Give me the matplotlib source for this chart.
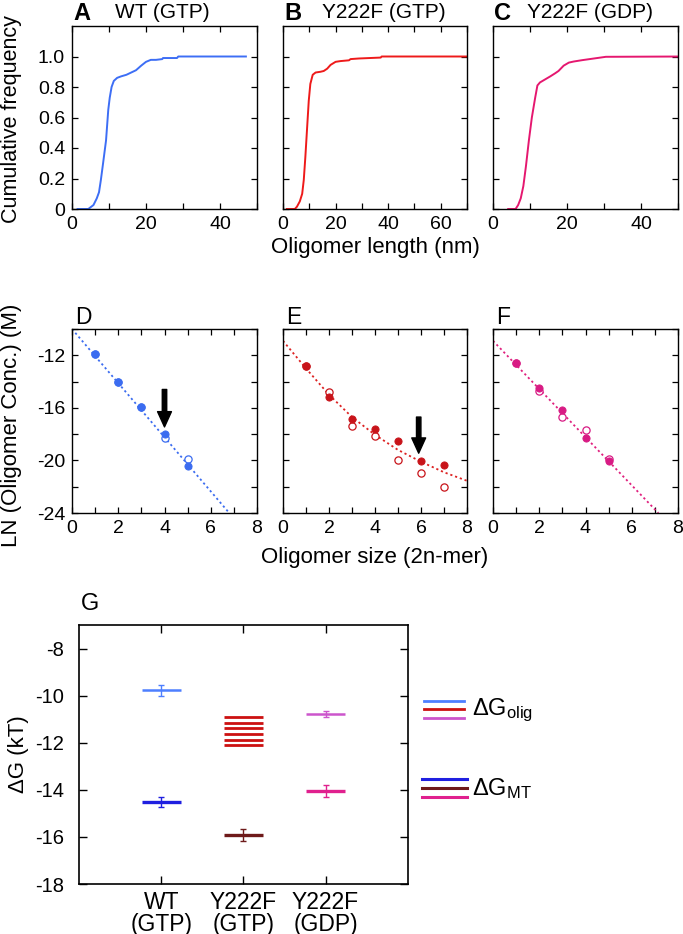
import numpy as np
import matplotlib
matplotlib.use("Agg")
import matplotlib.pyplot as plt

plt.rcParams['font.family'] = ['Liberation Sans', 'DejaVu Sans']
plt.rcParams['mathtext.fontset'] = 'custom'
plt.rcParams['mathtext.rm'] = 'Liberation Sans'
plt.rcParams['mathtext.it'] = 'Liberation Sans:italic'

# ---------------- data: cumulative length distributions ----------------
wt_gtp_len = [1.5, 4.4, 5.8, 6.7, 7.3, 7.8, 8.4, 9.2, 9.8, 10.2, 10.7, 11.3, 12.2, 13.3,
              14.7, 16.0, 17.3, 18.7, 20.0, 21.3, 22.7, 24.4, 24.6, 28.4, 28.7, 47.0]
wt_gtp_cdf = [0.0, 0.0, 0.026, 0.07, 0.11, 0.19, 0.30, 0.45, 0.65, 0.73, 0.80, 0.84, 0.86, 0.87,
              0.88, 0.895, 0.91, 0.94, 0.965, 0.978, 0.978, 0.983, 0.99, 0.99, 1.0, 1.0]

y222f_gtp_len = [1.5, 4.5, 5.3, 6.4, 7.3, 7.9, 8.5, 9.2, 9.8, 10.4, 11.3, 12.4, 14.3, 15.5,
                 16.8, 18.1, 20.0, 21.9, 25.1, 25.7, 28.9, 37.2, 37.5, 72.0]
y222f_gtp_cdf = [0.0, 0.0, 0.015, 0.05, 0.10, 0.19, 0.34, 0.54, 0.71, 0.82, 0.88, 0.895, 0.90, 0.905,
                 0.92, 0.945, 0.965, 0.97, 0.975, 0.983, 0.987, 0.993, 1.0, 1.0]

y222f_gdp_len = [4.1, 6.1, 6.8, 7.5, 8.2, 8.9, 9.7, 10.5, 11.4, 12.0, 12.7, 14.1, 15.5, 16.8,
                 17.7, 19.1, 20.5, 21.8, 24.1, 27.3, 30.5, 52.0]
y222f_gdp_cdf = [0.0, 0.0, 0.026, 0.07, 0.15, 0.28, 0.45, 0.60, 0.73, 0.81, 0.83, 0.85, 0.87, 0.89,
                 0.905, 0.94, 0.96, 0.967, 0.976, 0.987, 0.998, 1.0]

# ---------------- data: ln(oligomer conc.) vs size ----------------
wt_size_filled = [1, 2, 3, 4, 5]
wt_ln_filled = [-11.87, -14.0, -15.96, -17.98, -20.4]
wt_size_open = [1, 2, 3, 4, 5]
wt_ln_open = [-11.87, -14.0, -15.96, -18.3, -19.9]
wt_fit_x = [0.0, 6.8]
wt_fit_y = [-10.0, -24.0]

y222f_size_filled = [1, 2, 3, 4, 5, 6, 7]
y222f_ln_filled = [-12.85, -15.2, -16.85, -17.6, -18.5, -20.05, -20.35]
y222f_size_open = [1, 2, 3, 4, 5, 6, 7]
y222f_ln_open = [-12.85, -14.8, -17.4, -18.15, -19.95, -20.95, -22.0]
y222f_fit_x = [0, 1, 2, 3, 4, 5, 6, 7, 8]
y222f_fit_y = [-10.9, -13.0, -15.0, -16.7, -18.05, -19.2, -20.1, -20.9, -21.55]

gdp_size_filled = [1, 2, 3, 4, 5]
gdp_ln_filled = [-12.55, -14.5, -16.2, -18.3, -20.05]
gdp_size_open = [1, 2, 3, 4, 5]
gdp_ln_open = [-12.55, -14.75, -16.7, -17.7, -19.9]
gdp_fit_x = [0.0, 7.15]
gdp_fit_y = [-10.9, -24.0]

# ---------------- data: free energies ----------------
g_categories = ['WT\n(GTP)', 'Y222F\n(GTP)', 'Y222F\n(GDP)']
g_olig = [-9.78, None, -10.78]
g_olig_err = [0.25, None, 0.13]
g_olig_y222f_range = [-10.92, -11.15, -11.39, -11.63, -11.87, -12.1]
g_mt = [-14.52, -15.92, -14.06]
g_mt_err = [0.2, 0.27, 0.26]

# ---------------- layout ----------------
W, H = 683, 934
fig = plt.figure(figsize=(W / 100, H / 100), dpi=100)

def px_ax(l, t, r, b):
    return fig.add_axes([l / W, 1 - b / H, (r - l) / W, (b - t) / H])

def ftext(x, y, s, **kw):
    fig.text(x / W, 1 - y / H, s, **kw)

def style(ax):
    ax.tick_params(direction='in', top=True, right=True, length=4, width=0.9,
                   labelsize=14, pad=5)
    for sp in ax.spines.values():
        sp.set_linewidth(1.0)

cols_top = [(72, 257), (283, 467), (493, 678)]
c_blue = '#3d6ef5'
c_red = '#ee1a1a'
c_pink = '#e5176f'
c_blue_pts = '#3b6cf0'
c_red_pts = '#c8141a'
c_mag_pts = '#d81b84'

# top row
top_data = [(wt_gtp_len, wt_gtp_cdf, c_blue, 50),
            (y222f_gtp_len, y222f_gtp_cdf, c_red, 70),
            (y222f_gdp_len, y222f_gdp_cdf, c_pink, 50)]
for i, ((l, r), (xs, ys, c, xmax)) in enumerate(zip(cols_top, top_data)):
    ax = px_ax(l, 26, r, 209)
    ax.plot(xs, ys, color=c, lw=1.4)
    ax.set_xlim(0, xmax)
    ax.set_ylim(0, 1.2)
    xt = np.arange(0, xmax + 1, 10)
    ax.set_xticks(xt)
    ax.set_xticklabels([str(int(v)) if v % 20 == 0 else '' for v in xt])
    ax.set_yticks([0, 0.2, 0.4, 0.6, 0.8, 1.0])
    if i == 0:
        ax.set_yticklabels(['0', '0.2', '0.4', '0.6', '0.8', '1.0'])
    else:
        ax.set_yticklabels([])
    style(ax)

ftext(12, 119, 'Cumulative frequency', rotation=90, ha='center', va='center', fontsize=15.5)
ftext(375, 247, 'Oligomer length (nm)', ha='center', va='center', fontsize=16)
for (l, _), letter, title, tx in zip(cols_top, ['A', 'B', 'C'],
                                     ['WT (GTP)', 'Y222F (GTP)', 'Y222F (GDP)'],
                                     [115, 322, 527]):
    ftext(l + 1, 13, letter, fontsize=17, fontweight='bold', ha='left', va='center')
    ftext(tx, 13, title, fontsize=15, ha='left', va='center')

# middle row
mid_data = [
    (wt_size_filled, wt_ln_filled, wt_size_open, wt_ln_open, wt_fit_x, wt_fit_y, c_blue_pts, c_blue_pts, 4.0, -14.6, -17.45),
    (y222f_size_filled, y222f_ln_filled, y222f_size_open, y222f_ln_open, y222f_fit_x, y222f_fit_y, c_red_pts, '#dd2222', 5.9, -16.7, -19.45),
    (gdp_size_filled, gdp_ln_filled, gdp_size_open, gdp_ln_open, gdp_fit_x, gdp_fit_y, c_mag_pts, '#e0207e', None, None, None),
]
for i, ((l, r), d) in enumerate(zip(cols_top, mid_data)):
    xf, yf, xo, yo, fx, fy, c, lc, ax_x, ay0, ay1 = d
    ax = px_ax(l, 329, r, 513)
    ax.plot(fx, fy, color=lc, lw=1.3, ls=(0, (1.2, 1.6)))
    ax.plot(xo, yo, 'o', ms=5.2, mfc='white', mec=c, mew=0.9, zorder=3)
    ax.plot(xf, yf, 'o', ms=5.2, mfc=c, mec=c, mew=0.6, zorder=4)
    ax.set_xlim(0, 8)
    ax.set_ylim(-24, -10)
    ax.set_xticks(range(0, 9))
    ax.set_xticklabels([str(v) if v % 2 == 0 else '' for v in range(0, 9)])
    yt = list(range(-24, -9, 2))
    ax.set_yticks(yt)
    if i == 0:
        ax.set_yticklabels([str(v) if v in (-12, -16, -20, -24) else '' for v in yt])
    else:
        ax.set_yticklabels([])
    if ax_x is not None:
        ax.annotate('', xy=(ax_x, ay1), xytext=(ax_x, ay0),
                    arrowprops=dict(facecolor='black', edgecolor='black', width=3.2,
                                    headwidth=10, headlength=11, shrink=0), zorder=6)
    style(ax)

ftext(12, 425, 'LN (Oligomer Conc.) (M)', rotation=90, ha='center', va='center', fontsize=16)
ftext(375, 558, 'Oligomer size (2n-mer)', ha='center', va='center', fontsize=16)
for (l, _), letter in zip(cols_top, ['D', 'E', 'F']):
    ftext(l + 3, 318, letter, fontsize=16.5, ha='left', va='center')

# bottom panel G
axg = px_ax(79.3, 625, 407.7, 884)
c_olig = ['#4d7fff', '#cc1111', '#cc55cc']
c_mt = ['#1f1fe0', '#6e1a1a', '#e0208e']
xpos = [1, 2, 3]
hw = 0.24
for i, x in enumerate(xpos):
    if g_olig[i] is not None:
        axg.hlines(g_olig[i], x - hw, x + hw, color=c_olig[i], lw=1.8)
        axg.errorbar(x, g_olig[i], yerr=g_olig_err[i], fmt='none', ecolor=c_olig[i],
                     elinewidth=1.0, capsize=2.5, capthick=1.0)
    axg.hlines(g_mt[i], x - hw, x + hw, color=c_mt[i], lw=2.4)
    axg.errorbar(x, g_mt[i], yerr=g_mt_err[i], fmt='none', ecolor=c_mt[i],
                 elinewidth=1.0, capsize=2.5, capthick=1.0)
for v in g_olig_y222f_range:
    axg.hlines(v, 2 - hw, 2 + hw, color=c_olig[1], lw=2.0)

axg.set_xlim(0, 4)
axg.set_ylim(-18, -7)
axg.set_xticks(xpos)
axg.set_yticks(range(-18, -7, 2))
axg.set_yticklabels([str(v) for v in range(-18, -7, 2)])
axg.tick_params(direction='in', top=True, right=True, length=6, width=1.0)
axg.tick_params(axis='y', pad=11, labelsize=14.5)
axg.tick_params(axis='x', pad=5, labelsize=16.5)
axg.set_xticklabels(g_categories, fontsize=16.5, linespacing=0.92)
for sp in axg.spines.values():
    sp.set_linewidth(1.2)
axg.set_ylabel('ΔG (kT)', fontsize=16, labelpad=4)
ftext(81, 604, 'G', fontsize=17, ha='left', va='center')

# legend on the right (figure coordinates)
leg_olig_y = [700.7, 709, 717.7]
leg_mt_y = [779, 788.3, 797.3]
for yy, c in zip(leg_olig_y, c_olig):
    fig.add_artist(plt.Line2D([424 / W, 464 / W], [1 - yy / H, 1 - yy / H], color=c, lw=2.0))
for yy, c in zip(leg_mt_y, c_mt):
    fig.add_artist(plt.Line2D([422 / W, 467 / W], [1 - yy / H, 1 - yy / H], color=c, lw=2.2))
ftext(472, 710, r'ΔG$_{\mathrm{olig}}$', fontsize=17, ha='left', va='center')
ftext(472, 789, r'ΔG$_{\mathrm{MT}}$', fontsize=17, ha='left', va='center')

fig.savefig('out.png', dpi=100)
